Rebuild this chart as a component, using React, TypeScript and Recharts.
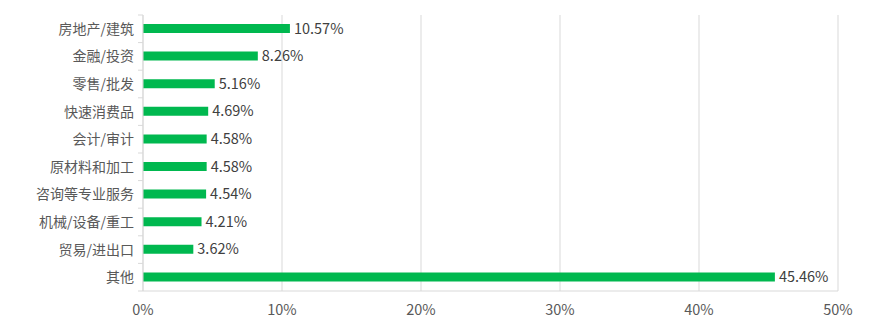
import React from 'react'
import { BarChart, Bar, XAxis, YAxis, CartesianGrid, LabelList } from 'recharts'

const industries = [
  '房地产/建筑',
  '金融/投资',
  '零售/批发',
  '快速消费品',
  '会计/审计',
  '原材料和加工',
  '咨询等专业服务',
  '机械/设备/重工',
  '贸易/进出口',
  '其他',
]
const shares = [10.57, 8.26, 5.16, 4.69, 4.58, 4.58, 4.54, 4.21, 3.62, 45.46]
const xTicks = [0, 10, 20, 30, 40, 50]

const data = industries.map((name, i) => ({ name, value: shares[i] }))

const W = 895
const H = 327
const MARGIN = { top: 15, right: 57, bottom: 6, left: 0 }
const X_AXIS_H = 30
const TICK_MARGIN = 9
const band = (H - MARGIN.top - MARGIN.bottom - X_AXIS_H) / industries.length

const FONT = '"Noto Sans CJK SC", "Noto Sans", sans-serif'
const FONT_SIZE = 14.5
const GRID = '#d9d9d9'

// category label plus a short tick on the upper boundary of its band
function CategoryTick(props: any) {
  const { x, y, payload, index } = props
  const axisX = x + TICK_MARGIN
  const top = y - band / 2
  return (
    <g>
      <line x1={axisX - 5} x2={axisX} y1={top} y2={top} stroke={GRID} />
      {index === industries.length - 1 && (
        <line x1={axisX - 5} x2={axisX} y1={top + band} y2={top + band} stroke={GRID} />
      )}
      <text x={x} y={y} dy={5} textAnchor="end" fill="#595959" fontSize={14} fontFamily={FONT}>
        {payload.value}
      </text>
    </g>
  )
}

export default function App() {
  return (
    <div style={{ position: 'absolute', left: 0, top: 0, background: '#fff' }}>
      <BarChart width={W} height={H} data={data} layout="vertical" margin={MARGIN}>
        <CartesianGrid horizontal={false} stroke={GRID} />
        <XAxis
          type="number"
          domain={[0, 50]}
          ticks={xTicks}
          tickFormatter={(v) => `${v}%`}
          height={X_AXIS_H}
          axisLine={{ stroke: GRID }}
          tickLine={false}
          tickMargin={8}
          tick={{ fill: '#595959', fontSize: FONT_SIZE, fontFamily: FONT }}
        />
        <YAxis
          type="category"
          dataKey="name"
          width={143}
          axisLine={{ stroke: GRID }}
          tickLine={false}
          tickSize={0}
          tickMargin={TICK_MARGIN}
          tick={<CategoryTick />}
        />
        <Bar dataKey="value" fill="#00b84f" barSize={9} isAnimationActive={false}>
          <LabelList
            dataKey="value"
            position="right"
            offset={4}
            fill="#404040"
            fontSize={FONT_SIZE}
            fontFamily={FONT}
            formatter={(v: any) => `${Number(v).toFixed(2)}%`}
          />
        </Bar>
      </BarChart>
    </div>
  )
}
